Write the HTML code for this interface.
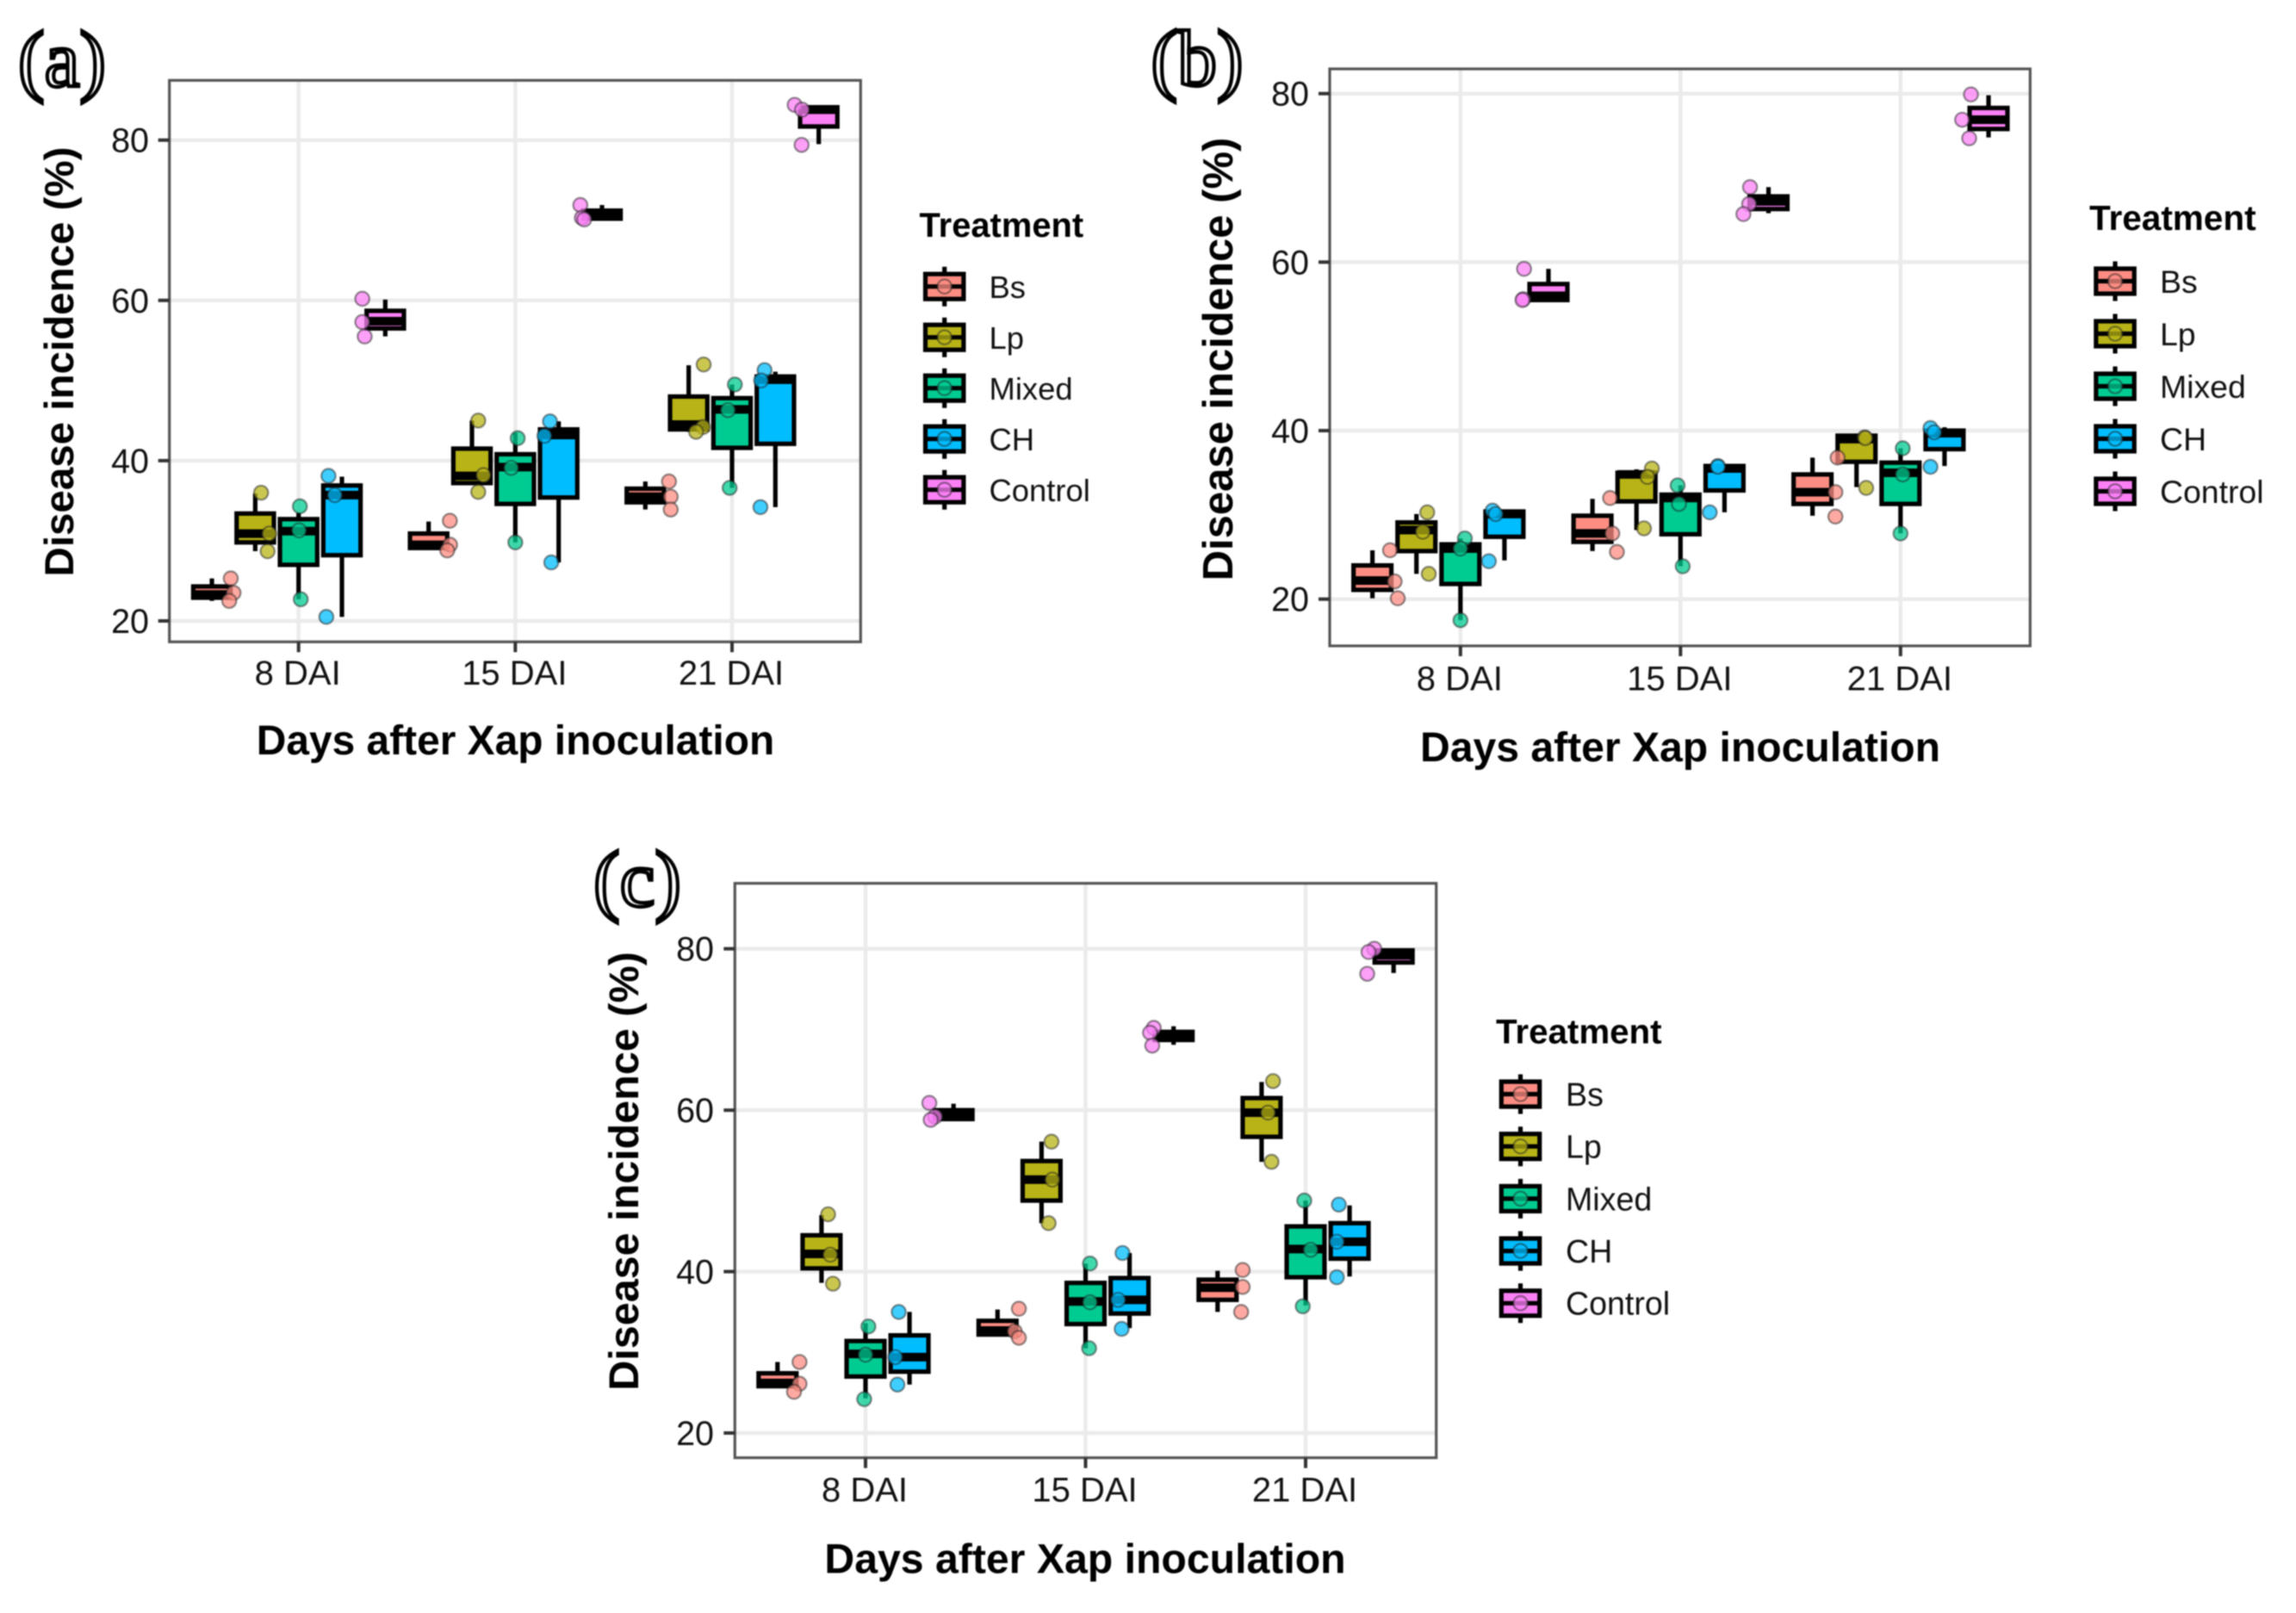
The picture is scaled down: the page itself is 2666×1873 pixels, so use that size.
<!DOCTYPE html>
<html lang="en">
<head>
<meta charset="utf-8">
<title>Disease incidence by treatment</title>
<style>
html,body{margin:0;padding:0;background:#fff;}
#figure{display:block;width:2666px;height:1873px;font-family:"Liberation Sans",sans-serif;filter:blur(0.7px);}
</style>
</head>
<body>
<svg id="figure" xmlns="http://www.w3.org/2000/svg" width="2666" height="1873" viewBox="0 0 2666 1873"></svg>
<script>
// Shared categories, series names and tick labels
const categories = ['8 DAI', '15 DAI', '21 DAI'];
const treatments = ['Bs', 'Lp', 'Mixed', 'CH', 'Control'];
const yTickValues = [20, 40, 60, 80];

// Every box array runs: 8 DAI (Bs, Lp, Mixed, CH, Control), 15 DAI (...), 21 DAI (...)
// Panel (a)
const panelAWhiskerLow = [22.5,28.7,22.7,20.5,55.5, 29.0,37.0,29.8,27.3,70.2, 33.9,43.6,36.6,34.2,79.5];
const panelAQ1 = [22.9,29.8,27.0,28.2,56.5, 29.1,37.2,34.6,35.4,70.2, 34.8,43.9,41.6,42.1,81.7];
const panelAMedian = [23.3,30.9,31.2,35.7,57.4, 29.5,38.1,39.2,43.2,70.7, 35.5,44.5,46.4,50.1,83.8];
const panelAQ3 = [24.3,33.4,32.7,36.9,58.7, 30.9,41.5,40.8,43.9,71.2, 36.5,48.0,47.8,50.5,84.1];
const panelAWhiskerHigh = [25.3,35.9,33.5,38.0,60.1, 32.4,45.0,43.5,44.9,71.9, 37.4,51.9,49.5,51.1,84.3];
const panelAPointValues = [
  25.3,23.5,22.5, 36.0,30.9,28.7, 34.3,31.3,22.7, 38.1,35.7,20.5, 60.2,57.3,55.5,
  32.5,29.5,28.8, 45.0,38.2,36.1, 42.8,39.1,29.8, 44.9,43.1,27.3, 71.9,70.3,70.1,
  37.4,35.5,33.9, 52.0,44.2,43.6, 49.5,46.3,36.6, 51.3,50.0,34.2, 84.4,83.8,79.4
];
const panelAPointJitter = [
  .087,.100,.080, .027,.065,.057, .006,.002,.010, -.062,-.033,-.072, -.106,-.106,-.095,
  .098,.099,.086, .029,.053,.029, .011,-.019,.000, -.040,-.066,-.034, -.100,-.093,-.082,
  .109,.117,.117, .069,.066,.034, .013,-.019,-.011, -.050,-.066,-.069, -.111,-.077,-.079
];

// Panel (b)
const panelBWhiskerLow = [20.1,23.0,17.5,24.6,55.5, 25.7,28.2,23.9,30.3,65.8, 29.9,33.3,27.8,35.8,74.8];
const panelBQ1 = [21.1,25.7,21.8,27.4,55.5, 26.8,31.6,27.7,32.9,66.3, 31.3,36.3,31.3,37.8,75.8];
const panelBMedian = [22.2,28.2,26.0,30.1,56.0, 27.8,34.8,32.0,35.5,67.2, 32.7,39.0,35.0,39.7,76.9];
const panelBQ3 = [24.0,29.1,26.5,30.4,57.4, 29.9,35.0,32.4,35.8,67.8, 34.8,39.4,36.2,40.0,78.3];
const panelBWhiskerHigh = [25.8,30.1,27.2,30.5,59.2, 31.9,35.4,33.5,35.9,68.9, 36.8,39.3,37.9,40.4,79.8];
const panelBPointValues = [
  25.8,22.1,20.1, 30.3,28.0,23.0, 27.2,26.0,17.5, 30.5,30.1,24.5, 59.2,55.6,55.5,
  32.0,27.8,25.6, 35.5,34.5,28.4, 33.5,31.3,23.9, 35.8,35.7,30.3, 68.9,66.9,65.7,
  36.8,32.7,29.8, 39.2,39.1,33.2, 37.9,34.8,27.8, 40.3,39.8,35.7, 79.9,76.9,74.7
];
const panelBPointJitter = [
  .080,.101,.115, .049,.029,.056, .020,.000,.000, -.054,-.040,-.071, -.111,-.115,-.118,
  .080,.090,.111, .070,.050,.034, -.013,-.007,.010, -.030,-.030,-.067, -.084,-.088,-.114,
  .114,.104,.104, .037,.040,.044, .010,.010,.000, -.064,-.047,-.064, -.080,-.120,-.088
];

// Panel (c)
const panelCWhiskerLow = [25.6,38.6,24.3,26.0,58.9, 32.2,46.0,30.5,33.0,68.1, 35.0,53.6,35.8,39.4,77.0];
const panelCQ1 = [25.8,40.4,27.0,27.6,58.9, 32.2,48.8,33.5,34.8,68.7, 36.5,56.7,39.3,41.6,78.3];
const panelCMedian = [26.2,42.2,29.8,29.4,59.5, 32.7,51.4,36.3,36.5,69.2, 38.0,59.7,42.8,43.7,79.2];
const panelCQ3 = [27.4,44.5,31.4,32.1,60.0, 33.9,53.7,38.6,39.2,69.7, 39.0,61.5,45.6,46.0,79.8];
const panelCWhiskerHigh = [28.8,47.0,33.6,35.0,60.8, 35.3,56.1,41.0,42.3,70.4, 40.1,63.5,48.8,48.2,79.9];
const panelCPointValues = [
  28.8,26.1,25.1, 47.1,42.1,38.5, 33.2,29.7,24.2, 35.0,29.4,26.0, 60.9,59.2,58.8,
  35.4,32.6,31.8, 56.1,51.4,46.0, 41.0,36.2,30.5, 42.3,36.5,32.9, 70.2,69.6,68.0,
  40.2,38.1,35.0, 63.6,59.7,53.6, 48.8,42.7,35.7, 48.3,43.7,39.3, 80.0,79.6,76.9
];
const panelCPointJitter = [
  .100,.100,.075, .030,.040,.052, .013,.000,-.006, -.049,-.065,-.055, -.110,-.084,-.104,
  .097,.078,.097, .045,.049,.032, .020,.020,.016, -.032,-.052,-.036, -.090,-.107,-.097,
  .114,.114,.107, .052,.029,.045, -.006,.023,-.013, -.049,-.058,-.058, -.088,-.114,-.120
];

// Layout, kept apart from the data
const fillColors = {Bs:'#fd8d83', Lp:'#b8b417', Mixed:'#00cc92', CH:'#00bdff', Control:'#fb80f5'};
const panels = [
  {id:'a', tag:'(a)', box:{l:196.7,t:93.3,r:999.3,b:745.3}, x0:346.7, dx:251.65, y20:721, y80:162.7,
   wl:panelAWhiskerLow,q1:panelAQ1,med:panelAMedian,q3:panelAQ3,wh:panelAWhiskerHigh,pv:panelAPointValues,pj:panelAPointJitter,
   tagX:72,tagY:100, tickX:173, catY:795, xTitle:{x:598.5,y:876,s:47.9}, yTitle:{x:85,y:420,s:47.5},
   legend:{titleX:1067.5,titleY:275,titleS:39.9,keyX:1096.7,keyY:332.7,step:59,labelX:1148.5,labelS:36.4}},
  {id:'b', tag:'(b)', box:{l:1544,t:80,r:2357.3,b:750}, x0:1695.8, dx:255.5, y20:695.7, y80:108.7,
   wl:panelBWhiskerLow,q1:panelBQ1,med:panelBMedian,q3:panelBQ3,wh:panelBWhiskerHigh,pv:panelBPointValues,pj:panelBPointJitter,
   tagX:1390,tagY:99, tickX:1520, catY:801.7, xTitle:{x:1951,y:884,s:48.1}, yTitle:{x:1431,y:417,s:49},
   legend:{titleX:2426,titleY:267,titleS:40.5,keyX:2456,keyY:326.5,step:61,labelX:2508,labelS:37.4}},
  {id:'c', tag:'(c)', box:{l:853.3,t:1025.7,r:1667.7,b:1692.7}, x0:1005, dx:255.5, y20:1664, y80:1101.7,
   wl:panelCWhiskerLow,q1:panelCQ1,med:panelCMedian,q3:panelCQ3,wh:panelCWhiskerHigh,pv:panelCPointValues,pj:panelCPointJitter,
   tagX:740,tagY:1052, tickX:829, catY:1743.5, xTitle:{x:1260,y:1826.5,s:48.2}, yTitle:{x:741,y:1360,s:48.5},
   legend:{titleX:1737,titleY:1211.5,titleS:40.3,keyX:1765.5,keyY:1270.5,step:60.7,labelX:1818,labelS:37.6}}
];

const svg = document.getElementById('figure');
const NS = 'http://www.w3.org/2000/svg';

function make(parent, tag, props, text) {
  const node = document.createElementNS(NS, tag);
  for (const k in props) node.setAttribute(k, props[k]);
  if (text !== undefined) node.textContent = text;
  parent.appendChild(node);
  return node;
}

function drawPanel(p) {
  const xScale = (cat, offset) => p.x0 + p.dx * (cat + offset);
  const yScale = v => p.y20 - (v - 20) * (p.y20 - p.y80) / 60;
  const catCount = categories.length;
  const trtCount = treatments.length;
  const boxHalf = 0.086;
  const dodge = 0.2;
  const lineW = 5.2;
  const pointR = 8.2;
  let el;

  const group = make(svg, 'g', {});
  
  

  el = make(group, 'text', {x:p.tagX, y:p.tagY, 'text-anchor':'middle', 'font-family':'"Liberation Serif",serif', 'font-size':92, fill:'#fff', stroke:'#000', 'stroke-width':4.2}, p.tag);
  
  

  // Gridlines
  yTickValues.forEach(v => {
    el = make(group, 'line', {x1:p.box.l, x2:p.box.r, y1:yScale(v), y2:yScale(v), stroke:'#ebebeb', 'stroke-width':4.5});
    
    
  });
  categories.forEach((c, i) => {
    el = make(group, 'line', {x1:xScale(i,0), x2:xScale(i,0), y1:p.box.t, y2:p.box.b, stroke:'#ebebeb', 'stroke-width':4.5});
    
    
  });

  // Boxes: whisker, box body, median
  for (let c = 0; c < catCount; c++) {
    for (let t = 0; t < trtCount; t++) {
      const i = c * trtCount + t;
      const off = (t - 2) * dodge;
      const cx = xScale(c, off);
      const name = treatments[t].toLowerCase() + '-' + categories[c].replace(' ', '-').toLowerCase();
      el = make(group, 'line', {x1:cx, x2:cx, y1:yScale(p.wl[i]), y2:yScale(p.wh[i]), stroke:'#000', 'stroke-width':lineW});
      
      
      const top = yScale(p.q3[i]);
      const bot = yScale(p.q1[i]);
      el = make(group, 'rect', {x:xScale(c, off - boxHalf), y:top, width:xScale(c, off + boxHalf) - xScale(c, off - boxHalf), height:bot - top, fill:fillColors[treatments[t]], stroke:'#000', 'stroke-width':lineW});
      
      
      el = make(group, 'line', {x1:xScale(c, off - boxHalf), x2:xScale(c, off + boxHalf), y1:yScale(p.med[i]), y2:yScale(p.med[i]), stroke:'#000', 'stroke-width':10});
      
      
    }
  }

  // Jittered points
  for (let c = 0; c < catCount; c++) {
    for (let t = 0; t < trtCount; t++) {
      for (let k = 0; k < 3; k++) {
        const i = (c * trtCount + t) * 3 + k;
        el = make(group, 'circle', {cx:xScale(c, (t - 2) * dodge + p.pj[i]), cy:yScale(p.pv[i]), r:pointR, fill:fillColors[treatments[t]], 'fill-opacity':.75, stroke:'#222', 'stroke-opacity':.5, 'stroke-width':2.2});
        
        
      }
    }
  }

  // Frame
  el = make(group, 'rect', {x:p.box.l, y:p.box.t, width:p.box.r - p.box.l, height:p.box.b - p.box.t, fill:'none', stroke:'#555', 'stroke-width':3.2});
  
  

  // Y axis
  yTickValues.forEach(v => {
    el = make(group, 'line', {x1:p.box.l - 13, x2:p.box.l, y1:yScale(v), y2:yScale(v), stroke:'#333', 'stroke-width':4});
    
    
    el = make(group, 'text', {x:p.tickX, y:yScale(v) + 14, 'text-anchor':'end', 'font-size':39.5, fill:'#111'}, String(v));
    
    
  });

  // X axis
  categories.forEach((label, i) => {
    el = make(group, 'line', {x1:xScale(i,0), x2:xScale(i,0), y1:p.box.b, y2:p.box.b + 12, stroke:'#333', 'stroke-width':4});
    
    
    el = make(group, 'text', {x:xScale(i,0) - 1, y:p.catY, 'text-anchor':'middle', 'font-size':40, fill:'#111'}, label);
    
    
  });

  el = make(group, 'text', {x:p.xTitle.x, y:p.xTitle.y, 'text-anchor':'middle', 'font-size':p.xTitle.s, 'font-weight':'bold', fill:'#000'}, 'Days after Xap inoculation');
  
  
  el = make(group, 'text', {transform:'translate(' + p.yTitle.x + ' ' + p.yTitle.y + ') rotate(-90)', 'text-anchor':'middle', 'font-size':p.yTitle.s, 'font-weight':'bold', fill:'#000'}, 'Disease incidence (%)');
  
  

  // Legend
  const lg = p.legend;
  const legend = make(group, 'g', {});
  
  
  el = make(legend, 'text', {x:lg.titleX, y:lg.titleY, 'font-size':lg.titleS, 'font-weight':'bold', fill:'#000'}, 'Treatment');
  
  
  treatments.forEach((name, t) => {
    const cy = lg.keyY + t * lg.step;
    const entry = make(legend, 'g', {});
    
    
    el = make(entry, 'line', {x1:lg.keyX, x2:lg.keyX, y1:cy - 23, y2:cy + 23, stroke:'#000', 'stroke-width':lineW});
    
    
    el = make(entry, 'rect', {x:lg.keyX - 22.2, y:cy - 14.5, width:44.4, height:29, fill:fillColors[name], stroke:'#000', 'stroke-width':lineW});
    
    
    el = make(entry, 'line', {x1:lg.keyX - 22.2, x2:lg.keyX + 22.2, y1:cy, y2:cy, stroke:'#000', 'stroke-width':lineW});
    
    
    el = make(entry, 'circle', {cx:lg.keyX, cy:cy, r:pointR, fill:fillColors[name], 'fill-opacity':.75, stroke:'#222', 'stroke-opacity':.5, 'stroke-width':2.2});
    
    
    el = make(entry, 'text', {x:lg.labelX, y:cy + 13.4, 'font-size':lg.labelS, fill:'#111'}, name);
    
    
  });
}

panels.forEach(drawPanel);
</script>
</body>
</html>
